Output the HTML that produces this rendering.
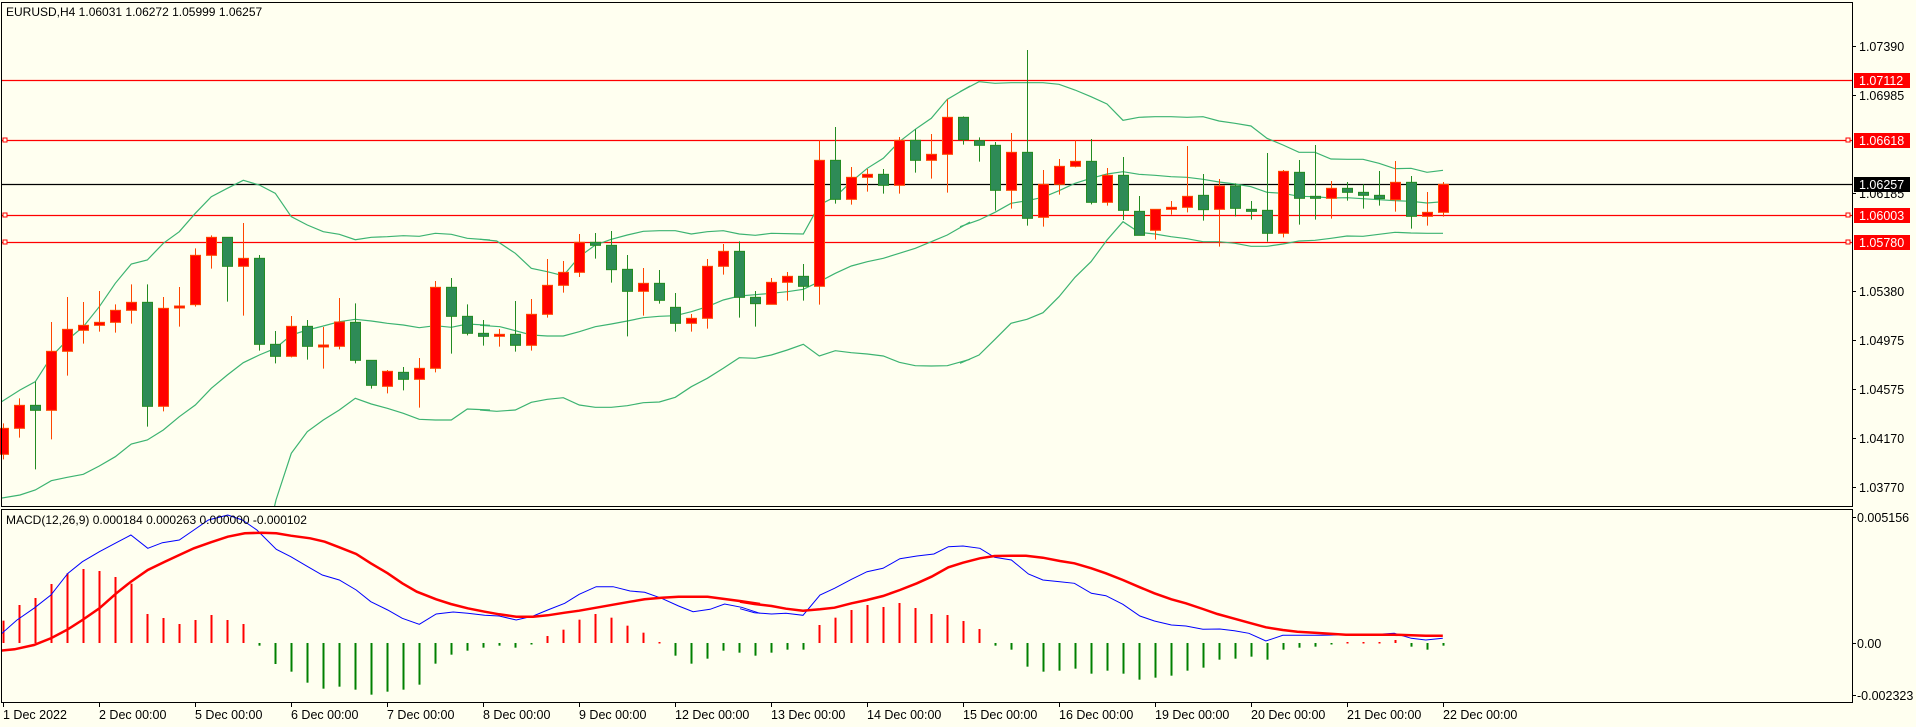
<!DOCTYPE html>
<html><head><meta charset="utf-8">
<style>
html,body{margin:0;padding:0;background:#fffff0;}
svg{display:block;font-family:"Liberation Sans",sans-serif;}
</style></head>
<body>
<svg id="c" width="1916" height="727" xmlns="http://www.w3.org/2000/svg"></svg>
<script>
const S=document.getElementById('c');let h='';
h+='<rect x="0" y="0" width="1916" height="727" fill="#fffff0"/>';
h+='<defs><clipPath id="mc"><rect x="2" y="3" width="1850" height="503"/></clipPath><clipPath id="dc"><rect x="2" y="510" width="1850" height="192"/></clipPath></defs>';
[[80,'#ff0000'],[140,'#ff0000'],[215,'#ff0000'],[242,'#ff0000'],[184,'#000000']].forEach(([y,c])=>{
 h+=`<line x1="2" x2="1852" y1="${y+0.5}" y2="${y+0.5}" stroke="${c}" stroke-width="1.2"/>`;});
[140,215,242].forEach(y=>{h+=`<rect x="3" y="${y-2}" width="4" height="4" fill="#fffff0" stroke="#ff0000"/><rect x="1846" y="${y-2}" width="4" height="4" fill="#fffff0" stroke="#ff0000"/>`;});
function pl(pts,ox,oy,sx,sy,col,w,clip){let s=pts.map(p=>(ox+p[0]/sx).toFixed(1)+','+(oy+p[1]/sy).toFixed(1)).join(' ');return `<polyline clip-path="url(#${clip})" points="${s}" fill="none" stroke="${col}" stroke-width="${w}"/>`;}
const bb=[
[0,[[0,1088],[60,1050],[106,1025],[154,950],[202,900],[250,860],[298,800],[346,730],[394,672],[442,660],[490,610],[538,575],[586,520],[634,470],[682,445],[730,421],[778,435],[826,460],[874,530],[922,555],[970,575],[1018,583],[1066,599],[1114,592],[1162,590],[1210,587],[1258,589],[1306,580],[1354,583],[1402,595],[1470,600]]],
[480,[[0,598],[50,603],[106,640],[154,685],[202,695],[250,707],[298,650],[346,615],[394,598],[442,585],[490,574],[538,572],[586,572],[634,582],[682,575],[730,572],[778,582],[826,586],[874,580],[970,582],[1018,495],[1066,470],[1114,425],[1162,385],[1210,355],[1258,305],[1306,268],[1354,235],[1402,178],[1470,138]]],
[960,[[0,155],[57,125],[105,130],[153,128],[201,128],[249,128],[297,133],[345,150],[393,170],[441,192],[489,241],[537,232],[585,230],[633,230],[681,232],[729,230],[777,243],[825,250],[873,258],[921,295],[969,315],[1017,337],[1065,337],[1113,357],[1161,358],[1209,358],[1257,370],[1305,386],[1353,385],[1401,397],[1449,391]]],
[0,[[0,1375],[60,1365],[106,1350],[154,1322],[202,1312],[250,1303],[298,1278],[346,1250],[394,1212],[442,1200],[490,1170],[538,1130],[586,1095],[634,1045],[682,1005],[730,968],[778,945],[826,925],[874,885],[922,870],[970,858],[1018,845],[1066,838],[1114,843],[1162,850],[1210,855],[1258,863],[1306,857],[1354,862],[1402,852],[1470,856]]],
[480,[[0,856],[60,860],[106,872],[154,885],[202,888],[250,888],[298,875],[346,860],[394,852],[442,843],[490,833],[538,829],[586,827],[634,815],[682,800],[730,780],[778,768],[826,764],[874,760],[922,755],[970,748],[1018,725],[1066,700],[1114,678],[1162,665],[1210,655],[1258,640],[1306,625],[1354,605],[1402,585],[1470,546]]],
[960,[[0,560],[57,540],[105,517],[153,490],[201,482],[249,472],[297,452],[345,430],[393,415],[441,402],[489,395],[537,403],[585,406],[633,410],[681,412],[729,418],[777,426],[825,432],[873,440],[921,457],[969,460],[1017,469],[1065,470],[1113,474],[1161,473],[1209,476],[1257,479],[1305,482],[1353,484],[1401,489],[1449,485]]],
[0,[[800,1500],[828,1380],[874,1240],[922,1175],[970,1140],[1018,1110],[1066,1075],[1114,1092],[1162,1105],[1210,1120],[1258,1138],[1306,1140],[1354,1140],[1402,1107],[1470,1110]]],
[480,[[0,1110],[50,1114],[106,1110],[154,1087],[202,1078],[250,1073],[298,1095],[346,1102],[394,1102],[442,1097],[490,1088],[538,1086],[586,1072],[634,1040],[682,1015],[730,985],[778,953],[826,955],[874,945],[922,930],[970,913],[1018,948],[1066,932],[1114,938],[1162,942],[1210,948],[1258,967],[1306,977],[1354,978],[1402,977],[1470,958]]],
[960,[[0,970],[57,945],[105,898],[153,850],[201,838],[249,818],[297,770],[345,712],[393,665],[441,600],[489,545],[537,577],[585,582],[633,590],[681,596],[729,605],[777,605],[825,610],[873,619],[921,619],[969,612],[1017,603],[1065,601],[1113,595],[1161,588],[1209,589],[1257,583],[1305,577],[1353,579],[1401,580],[1449,580]]]];
bb.forEach(([ox,p])=>{h+=pl(p,ox,40,3,3,'#3cb371',1.2,'mc');});
const C=[[1150,1165,1243,1258,1],[1075,1096,1165,1193,1],[1025,1096,1111,1288,0],[846,934,1111,1198,1],[771,868,934,1007,1],[786,856,871,911,1],[753,847,856,875,1],[793,811,847,878,1],[733,787,811,851,1],[733,787,1099,1160,0],[771,805,1099,1114,1],[741,798,803,860,1],[625,646,794,800,1],[586,592,646,686,1],[592,592,679,785,0],[549,655,679,827,1],[645,655,913,932,0],[873,913,949,970,0],[828,859,949,952,1],[840,859,919,959,0],[861,915,919,986,1],[774,846,919,928,1],[790,847,961,970,0],[961,961,1036,1046,0],[990,994,1039,1060,1],[981,997,1018,1051,0],[954,985,1018,1103,1],[723,742,985,997,1],[714,742,829,941,0],[793,829,880,886,0],[840,880,889,917,0],
[867,883,889,920,1],[783,883,916,935,0],[777,823,916,932,1],[657,736,823,833,1],[663,697,736,758,1],[582,607,697,711,1],[579,607,616,656,0],[573,616,689,728,0],[645,688,754,889,0],[684,730,754,827,1],[690,730,781,791,0],[759,802,850,875,0],[822,835,850,875,1],[657,679,835,866,1],[612,634,679,704,1],[604,634,772,833,0],[753,772,791,860,0],[714,727,793,793,1],[696,709,727,782,1],[672,709,739,782,0],[301,361,739,794,1],[261,361,478,491,0],[381,412,478,494,1],[387,403,412,455,1],[387,403,436,461,0],[291,301,436,461,1],[268,301,361,398,0],[282,343,361,416,1],[178,232,343,458,1],[229,232,299,314,0],
[292,302,316,365,0],[306,316,451,512,0],[279,337,451,506,1],[30,337,535,557,0],[390,433,532,560,1],[357,379,433,464,1],[301,364,379,382,1],[297,364,487,493,0],[384,406,487,497,1],[351,406,511,540,0],[468,514,586,586,0],[508,508,571,599,1],[483,502,508,524,1],[318,469,502,517,1],[402,466,509,542,0],[417,438,508,620,1],[430,438,505,529,0],[483,508,511,539,0],[339,511,580,605,0],[390,394,580,592,1],[360,397,475,554,0],[315,469,475,539,0],[423,445,475,536,1],[426,445,457,482,0],[433,457,466,506,0],[393,466,476,497,0],[363,427,479,515,1],[408,427,529,566,0],[456,517,529,557,1],[426,433,517,530,1]];
C.forEach((c,i)=>{const x=3+16*i;const y=v=>40+v/3;const up=c[4];
 const bc=up?'#ff4500':'#228b22',fc=up?'#ff0000':'#2e8b57';
 h+=`<line x1="${x+0.5}" x2="${x+0.5}" y1="${y(c[0])}" y2="${y(c[3])}" stroke="${bc}" stroke-width="1"/>`;
 let t=y(c[1]),b=y(c[2]);if(b-t<2)b=t+2;
 h+=`<rect x="${x-4.5}" y="${t}" width="10" height="${b-t}" fill="${fc}" stroke="${bc}" stroke-width="1"/>`;});
const H1=[272,225,204,162,130,117,123,141,161,252,264,282,270,255,270,282,347,402,425,458,476,470,479,494,485,479,464,401,374,362,353,347,353,341,318,299,269,252,263,287,308,336,377,401,386,362,368];
const H2=[377,368,359,359,285,263,240,225,231,219,234,252,255,273,297,347,359,410,425,422,416,431,422,431,449,443,437,422,413,389,386,380,389,359,353,350,342,336,336,336,330,350,359,347];
const H=H1.concat(H2);
H.forEach((v,i)=>{const x=3+16*i;const y=530+v/3;const red=v<339;const z=643;
 let y1=Math.min(y,z),y2=Math.max(y,z);if(y2-y1<1.5)y2=y1+1.5;
 h+=`<line x1="${x+0.5}" x2="${x+0.5}" y1="${y1}" y2="${y2}" stroke="${red?'#ff0000':'#008000'}" stroke-width="2"/>`;});
const sig6=[[0,362],[30,358],[70,345],[105,325],[140,298],[170,270],[205,235],[240,190],[270,155],[305,120],[340,95],[370,75],[400,55],[435,37],[470,20],[505,10],[540,8],[570,10],[600,17],[640,25],[670,35],[700,52],[735,72],[765,100],[800,130],[830,160],[860,185],[900,208],[930,222],[965,235],[1000,245],[1030,253],[1065,260],[1100,260],[1130,256],[1165,248],[1195,242],[1230,233],[1265,224],[1300,215],[1330,208],[1365,203],[1400,200],[1460,200],[1495,207],[1530,214],[1568,222]];
const sig7=[[0,215],[30,222],[65,228],[95,236],[130,242],[165,238],[195,233],[230,220],[262,210],[295,198],[330,180],[365,160],[395,140],[430,112],[460,98],[495,85],[525,78],[560,77],[590,77],[625,83],[660,93],[690,100],[725,115],[755,130],[790,150],[825,172],[855,190],[890,208],[920,220],[955,237],[985,252],[1020,266],[1050,278],[1085,292],[1120,300],[1150,305],[1185,308],[1250,314],[1350,314],[1415,317],[1450,317]];
const bl6=[[0,315],[35,270],[70,235],[105,195],[140,130],[170,95],[205,65],[240,38],[270,15],[305,55],[335,38],[370,30],[400,0],[430,-30],[470,-45],[500,-30],[530,0],[570,58],[600,80],[635,110],[665,135],[700,150],[735,180],[765,215],[800,240],[830,265],[865,283],[900,252],[935,246],[965,250],[1000,256],[1030,258],[1065,270],[1100,258],[1130,240],[1165,220],[1195,193],[1230,170],[1265,170],[1300,183],[1330,187],[1365,205],[1400,228],[1430,245],[1465,238],[1495,222],[1530,232],[1568,250]];
const bl7=[[0,236],[30,248],[65,252],[95,250],[130,256],[165,195],[195,175],[230,148],[262,125],[295,115],[330,86],[365,78],[400,72],[430,50],[460,48],[495,55],[525,82],[560,90],[595,132],[625,150],[660,155],[690,160],[725,190],[755,197],[790,223],[825,258],[855,273],[890,285],[920,288],[955,298],[990,297],[1020,302],[1050,310],[1085,333],[1120,316],[1200,316],[1250,314],[1300,314],[1350,310],[1385,325],[1415,330],[1450,325]];
h+=pl(bl6,0,530,2.0632,3,'#0000ff',1,'dc');h+=pl(bl7,740,530,2.0632,3,'#0000ff',1,'dc');
h+=pl(sig6,0,530,2.0632,3,'#ff0000',2.5,'dc');h+=pl(sig7,740,530,2.0632,3,'#ff0000',2.5,'dc');
h+='<rect x="1.5" y="2.5" width="1851" height="504" fill="none" stroke="#000" stroke-width="1"/>';
h+='<rect x="1.5" y="509.5" width="1851" height="193" fill="none" stroke="#000" stroke-width="1"/>';
[[46,'1.07390'],[95,'1.06985'],[193,'1.06185'],[291,'1.05380'],[340,'1.04975'],[389,'1.04575'],[438,'1.04170'],[487,'1.03770']].forEach(([y,t])=>{
 h+=`<line x1="1852" x2="1856" y1="${y+0.5}" y2="${y+0.5}" stroke="#000"/><text x="1859" y="${y+5}" font-size="12.5" fill="#000">${t}</text>`;});
[[80,'1.07112','#ff0000'],[140,'1.06618','#ff0000'],[215,'1.06003','#ff0000'],[242,'1.05780','#ff0000'],[184,'1.06257','#000000']].forEach(([y,t,c])=>{
 h+=`<rect x="1854" y="${y-7}" width="56" height="15" fill="${c}"/><text x="1859" y="${y+5}" font-size="12.5" fill="#fff">${t}</text>`;});
[[517,'0.005156'],[643,'0.00'],[695,'-0.002323']].forEach(([y,t])=>{
 h+=`<line x1="1852" x2="1856" y1="${y+0.5}" y2="${y+0.5}" stroke="#000"/><text x="1857" y="${y+5}" font-size="12.5" fill="#000">${t}</text>`;});
['1 Dec 2022','2 Dec 00:00','5 Dec 00:00','6 Dec 00:00','7 Dec 00:00','8 Dec 00:00','9 Dec 00:00','12 Dec 00:00','13 Dec 00:00','14 Dec 00:00','15 Dec 00:00','16 Dec 00:00','19 Dec 00:00','20 Dec 00:00','21 Dec 00:00','22 Dec 00:00'].forEach((t,i)=>{
 const x=3+96*i;h+=`<line x1="${x+0.5}" x2="${x+0.5}" y1="702" y2="707" stroke="#000"/><text x="${x}" y="719" font-size="12.5" fill="#000">${t}</text>`;});
h+='<text x="6" y="16" font-size="12" fill="#000">EURUSD,H4  1.06031 1.06272 1.05999 1.06257</text>';
h+='<text x="6" y="524" font-size="12" fill="#000">MACD(12,26,9) 0.000184 0.000263 0.000000 -0.000102</text>';
S.innerHTML=h;
</script>
</body></html>
